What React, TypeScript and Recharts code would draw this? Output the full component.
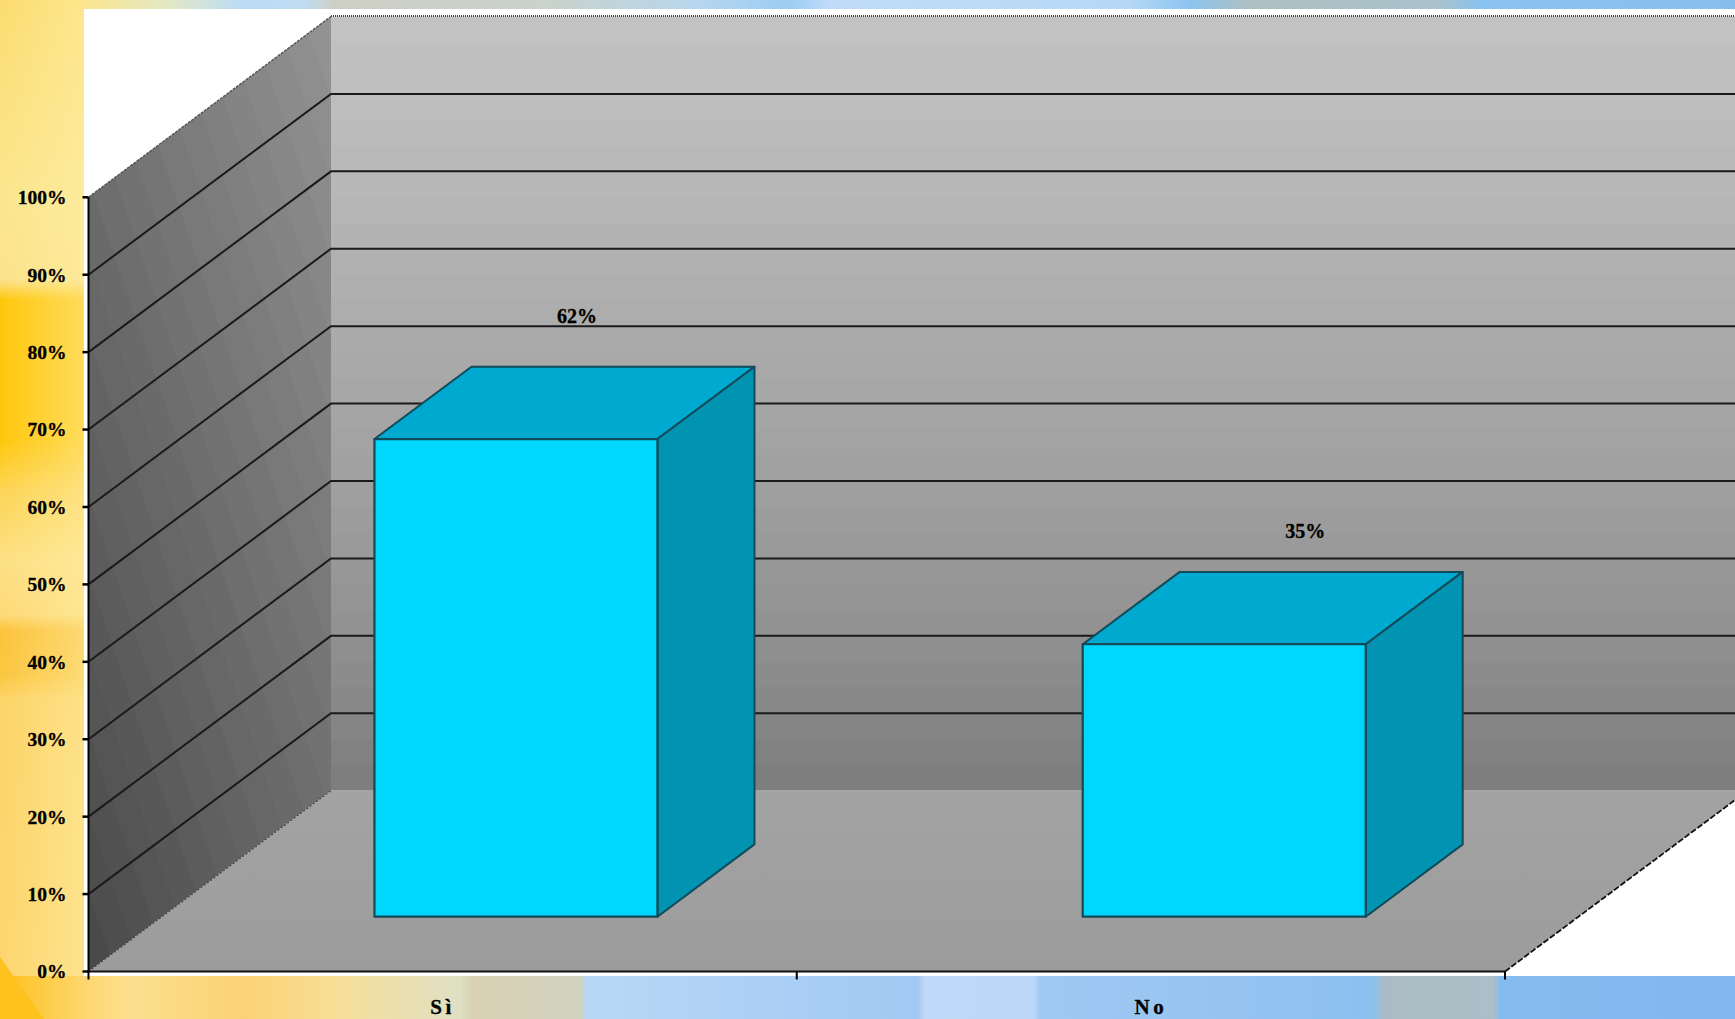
import React from "react";
import {
  BarChart,
  Bar,
  XAxis,
  YAxis,
  CartesianGrid,
  ReferenceArea,
  LabelList,
} from "recharts";

const categories = ["Sì", "No"];
const shares = [61.7, 35.2];
const yTicks = [0, 10, 20, 30, 40, 50, 60, 70, 80, 90, 100];

const chartData = categories.map((name, i) => ({ name, share: shares[i] }));

const W = 1735;
const H = 1019;
const PLOT_LEFT = 88.5;
const PLOT_RIGHT = 1505;
const PLOT_TOP = 197.3;
const PLOT_BOTTOM = 971.5;
const BAND = (PLOT_RIGHT - PLOT_LEFT) / categories.length;

// 3D projection of the chart depth axis
const DEPTH_X = 242.5;
const DEPTH_Y = -180.8;
const BAR_NEAR = 0.303;
const BAR_FAR = 0.703;

const FONT = '"Liberation Serif", "Times New Roman", serif';

const lerpAnchors = (anchors: number[], t: number) => {
  const p = t * (anchors.length - 1);
  const i = Math.min(Math.floor(p), anchors.length - 2);
  return anchors[i] + (anchors[i + 1] - anchors[i]) * (p - i);
};

const bandStops = (anchors: number[], bands: number) => {
  const out: React.ReactElement[] = [];
  for (let i = 0; i < bands; i++) {
    const v = Math.round(lerpAnchors(anchors, i / (bands - 1)));
    const c = `rgb(${v},${v},${v})`;
    out.push(<stop key={`a${i}`} offset={i / bands} stopColor={c} />);
    out.push(<stop key={`b${i}`} offset={(i + 1) / bands} stopColor={c} />);
  }
  return out;
};

const Room = (props: any) => {
  const { x, y, width, height } = props;
  const x2 = x + width;
  const y2 = y + height;
  const bx = x + DEPTH_X;
  const topBack = y + DEPTH_Y;
  const botBack = y2 + DEPTH_Y;
  return (
    <g>
      <defs>
        <linearGradient id="backWall" x1="0" y1="0" x2="0" y2="1">
          {bandStops([194, 184, 172, 160, 146, 126], 30)}
        </linearGradient>
        <linearGradient
          id="sideWall"
          gradientUnits="userSpaceOnUse"
          x1={x}
          y1={y2}
          x2={x + 508}
          y2={y2 - 173}
        >
          {bandStops([74, 146], 21)}
        </linearGradient>
        <linearGradient id="floor" x1="0" y1="0" x2="0" y2="1">
          <stop offset="0" stopColor="#a3a3a3" />
          <stop offset="1" stopColor="#9c9c9c" />
        </linearGradient>
      </defs>
      <rect x={bx} y={topBack} width={W - bx} height={height} fill="url(#backWall)" />
      <polygon
        points={`${x},${y} ${bx},${topBack} ${bx},${botBack} ${x},${y2}`}
        fill="url(#sideWall)"
      />
      <polygon
        points={`${x},${y2} ${bx},${botBack} ${x2 + DEPTH_X},${botBack} ${x2},${y2}`}
        fill="url(#floor)"
      />
      <line x1={bx} y1={topBack - 0.5} x2={W} y2={topBack - 0.5} stroke="#444" strokeWidth={2} strokeDasharray="1 1" />
      <line x1={x} y1={y} x2={bx} y2={topBack} stroke="#555" strokeWidth={1.5} strokeDasharray="3 1" />
      <line x1={x} y1={y2} x2={bx} y2={botBack} stroke="#444" strokeWidth={1.2} strokeDasharray="2 2" />
      <line x1={x2} y1={y2} x2={x2 + DEPTH_X} y2={botBack} stroke="#111" strokeWidth={1.8} strokeDasharray="6 2" />
    </g>
  );
};

const GridLine = (props: any) => {
  const { x1, x2, y1 } = props;
  // no rule on the floor edge nor on the top edge of the walls
  if (Math.abs(y1 - PLOT_BOTTOM) < 1 || Math.abs(y1 - PLOT_TOP) < 1) return <g />;
  const bx = x1 + DEPTH_X;
  const by = y1 + DEPTH_Y;
  return (
    <polyline
      points={`${x1},${y1} ${bx},${by} ${x2 + DEPTH_X},${by}`}
      fill="none"
      stroke="#1a1a1a"
      strokeWidth={2}
    />
  );
};

const Box = (props: any) => {
  const { x, y, width, height } = props;
  const fx = x + DEPTH_X * BAR_NEAR;
  const fy = y + DEPTH_Y * BAR_NEAR;
  const dx = DEPTH_X * (BAR_FAR - BAR_NEAR);
  const dy = DEPTH_Y * (BAR_FAR - BAR_NEAR);
  const edge = "#124a58";
  return (
    <g strokeLinejoin="round">
      <polygon
        points={`${fx},${fy} ${fx + dx},${fy + dy} ${fx + width + dx},${fy + dy} ${fx + width},${fy}`}
        fill="#00a9cf"
        stroke={edge}
        strokeWidth={2}
      />
      <polygon
        points={`${fx + width},${fy} ${fx + width + dx},${fy + dy} ${fx + width + dx},${fy + dy + height} ${fx + width},${fy + height}`}
        fill="#0094b2"
        stroke={edge}
        strokeWidth={2}
      />
      <rect x={fx} y={fy} width={width} height={height} fill="#00d7ff" stroke={edge} strokeWidth={2.2} />
    </g>
  );
};

// small per-bar nudges from the top-left front corner of the box
const labelNudge = [
  { dx: 202.5, dy: -122.8 },
  { dx: 222.6, dy: -113 },
];

const BarValue = (props: any) => {
  const { x, y, value, index } = props;
  const n = labelNudge[index] ?? labelNudge[0];
  return (
    <text
      x={x + DEPTH_X * BAR_NEAR + n.dx}
      y={y + DEPTH_Y * BAR_NEAR + n.dy}
      textAnchor="middle"
      dominantBaseline="central"
      fontFamily={FONT}
      fontWeight="bold"
      fontSize={20}
      fill="#000"
      stroke="#000"
      strokeWidth={0.3}
    >
      {`${Math.round(value)}%`}
    </text>
  );
};

const CategoryTick = (props: any) => {
  const { x, payload, index } = props;
  const left = x - BAND / 2;
  const right = x + BAND / 2;
  return (
    <g>
      <line x1={left} y1={PLOT_BOTTOM} x2={left} y2={PLOT_BOTTOM + 8} stroke="#000" strokeWidth={2} />
      {index === categories.length - 1 && (
        <line x1={right} y1={PLOT_BOTTOM} x2={right} y2={PLOT_BOTTOM + 8} stroke="#000" strokeWidth={2} />
      )}
      <text
        x={x}
        y={1007}
        textAnchor="middle"
        dominantBaseline="central"
        fontFamily={FONT}
        fontWeight="bold"
        fontSize={21}
        letterSpacing={3.5}
        fill="#000"
        stroke="#000"
        strokeWidth={0.3}
      >
        {payload.value}
      </text>
    </g>
  );
};

const bottomStrip =
  "linear-gradient(90deg,#fdc62e 0,#fdc62e 20px,#fdd874 90px,#fbe08e 130px,#fbd274 240px,#f6df98 340px,#dfe0c4 460px,#d9d0b2 474px,#d0d3c0 581px,#b8d9f6 586px,#abcff5 775px,#a2c9f3 918px,#c0d9f9 925px,#bcd6f8 1034px,#9fc9f3 1040px,#97c4f1 1200px,#8cc0f0 1372px,#abbcc4 1386px,#aabfc8 1494px,#84bcf0 1500px,#80b8ee 1735px)";
const topStrip =
  "linear-gradient(90deg,#fbe07e 0,#fbe58e 84px,#e2e8c6 170px,#bcdcf4 240px,#bfdcf2 305px,#cfcfc4 335px,#c9d2cc 550px,#b6d6ee 700px,#9cccf2 790px,#c0dcfa 830px,#b6d8f6 1130px,#8cc4f0 1190px,#aebfc2 1250px,#a9c2cc 1440px,#8ac2f0 1480px,#86bef0 1735px)";
const leftStrip =
  "linear-gradient(90deg,rgba(255,244,180,0) 0,rgba(255,240,170,.5) 84px),linear-gradient(180deg,#fbdc70 0,#fbe68e 200px,#fbe28a 280px,#ffc70c 300px,#ffc70c 440px,#fcd454 490px,#fde084 560px,#fdda78 615px,#fbc33c 630px,#fbc640 675px,#fcd468 700px,#fdd670 1019px)";

export default function App() {
  return (
    <div
      style={{
        position: "absolute",
        left: 0,
        top: 0,
        width: W,
        height: H,
        overflow: "hidden",
      }}
    >
      <div style={{ position: "absolute", left: 0, top: 0, width: W, height: 9, background: topStrip }} />
      <div style={{ position: "absolute", left: 0, top: 0, width: 84, height: H, background: leftStrip }} />
      <div style={{ position: "absolute", left: 0, top: 976, width: W, height: 43, background: bottomStrip }} />
      <div
        style={{
          position: "absolute",
          left: 0,
          top: 957,
          width: 44,
          height: 62,
          background: "#fdc21e",
          clipPath: "polygon(0 0, 100% 100%, 0 100%)",
        }}
      />
      <div style={{ position: "absolute", left: 84, top: 9, width: W - 84, height: 967, background: "#fff" }} />
      <div style={{ position: "absolute", left: 0, top: 0 }}>
        <BarChart
          width={W}
          height={H}
          data={chartData}
          margin={{ top: PLOT_TOP, right: W - PLOT_RIGHT, bottom: 0, left: 0 }}
          barCategoryGap="30%"
        >
          <ReferenceArea
            y1={0}
            y2={100}
            ifOverflow="visible"
            shape={<Room />}
            fill="none"
            stroke="none"
            zIndex={-200}
          />
          <CartesianGrid
            vertical={false}
            horizontal={(p: any) => <GridLine key={p.key} {...p} />}
            zIndex={-100}
          />
          <XAxis
            dataKey="name"
            height={H - PLOT_BOTTOM}
            tickLine={false}
            axisLine={{ stroke: "#111", strokeWidth: 2 }}
            tick={<CategoryTick />}
            interval={0}
          />
          <YAxis
            type="number"
            domain={[0, 100]}
            ticks={yTicks}
            width={PLOT_LEFT}
            tickSize={6}
            tickMargin={16}
            tickFormatter={(v: number) => `${v}%`}
            axisLine={{ stroke: "#000", strokeWidth: 2 }}
            tickLine={{ stroke: "#000", strokeWidth: 2.5 }}
            tick={{ fontFamily: FONT, fontWeight: "bold", fontSize: 19.5, fill: "#000", stroke: "#000", strokeWidth: 0.3 }}
            interval={0}
          />
          <Bar dataKey="share" shape={<Box />} isAnimationActive={false}>
            <LabelList dataKey="share" content={<BarValue />} />
          </Bar>
        </BarChart>
      </div>
    </div>
  );
}
